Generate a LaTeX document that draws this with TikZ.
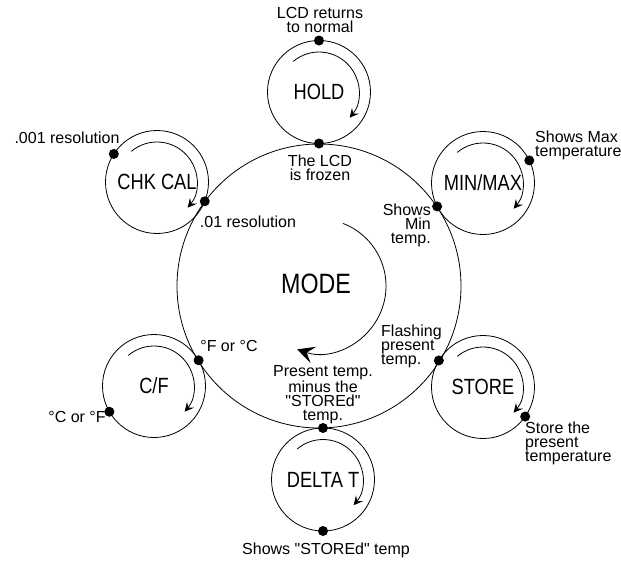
\documentclass[tikz,border=0pt]{standalone}
\usepackage{fontspec}
\setmainfont{Liberation Sans}
\newfontfamily\narrowfont[FakeStretch=0.83]{Liberation Sans}
\usepackage{tikz}
\usetikzlibrary{arrows.meta}

\tikzset{
  submode/.style={circle, draw, line width=0.8pt, minimum size=103pt, inner sep=0pt, outer sep=0pt,
    font=\narrowfont\fontsize{22}{22}\selectfont},
  contact/.style={circle, fill=black, minimum size=10pt, inner sep=0pt},
  remark/.style={inner sep=0pt, font=\fontsize{16}{14}\selectfont},
  turn/.style={line width=0.8pt, -{Stealth[length=9pt,width=9pt,inset=3.5pt]}},
}

\begin{document}
\begin{tikzpicture}[x=1pt,y=1pt]
    \useasboundingbox (0,0) rectangle (621,-560);

    % the big MODE ring
    \coordinate (hub) at (319,-286);
    \draw[line width=0.8pt] (hub) circle[radius=142];
    \node[font=\narrowfont\fontsize{28}{28}\selectfont] (mode) at (316,-284) {MODE};
    \draw[line width=0.8pt, -{Stealth[length=17pt,width=17pt,inset=7pt]}]
        ([shift={(69:67)}]hub) arc[start angle=69, end angle=-109, radius=67];

    % the six sub modes
    \node[submode] (hold) at (319,-92) {HOLD};
    \node[submode] (minmax) at (483,-183) {MIN/MAX};
    \node[submode] (chkcal) at (157,-182) {CHK CAL};
    \node[submode] (cf) at (154,-386) {C/F};
    \node[submode] (store) at (483,-387) {STORE};
    \node[submode] (deltat) at (323,-479.5) {DELTA T};

    \foreach \m in {hold,minmax,chkcal,cf,store,deltat}
        \draw[turn] ([shift={(130:40)}]\m.center) arc[start angle=130, end angle=-40, radius=40];

    % dots where the rings meet
    \node[contact] (holdin) at (hold.270) {};
    \node[contact] (holdout) at (hold.90) {};
    \node[contact] (minmaxin) at (minmax.207.5) {};
    \node[contact] (minmaxout) at (minmax.26) {};
    \node[contact] (chkcalin) at (chkcal.-22) {};
    \node[contact] (chkcalout) at (chkcal.147) {};
    \node[contact] (cfin) at (cf.30) {};
    \node[contact] (cfout) at (cf.210) {};
    \node[contact] (storein) at (store.149.5) {};
    \node[contact] (storeout) at (store.-35) {};
    \node[contact] (deltatin) at (deltat.90) {};
    \node[contact] (deltatout) at (deltat.270) {};

    % texts
    \node[remark, align=center] (holdnormal) at (320,-20) {LCD returns\\to normal};
    \node[remark, align=center] (holdfrozen) at (320,-168) {The LCD\\is frozen};
    \node[remark, align=left, anchor=west] (maxtext) at (535,-145) {Shows Max\\temperature};
    \node[remark, align=right, anchor=east] (mintext) at (431,-225) {Shows\\Min\\temp.};
    \node[remark] (finetext) at (67,-138) {.001 resolution};
    \node[remark] (coarsetext) at (248,-222) {.01 resolution};
    \node[remark] (fctext) at (229,-346) {°F or °C};
    \node[remark] (cftext) at (77,-417) {°C or °F};
    \node[remark, align=left, anchor=west] (flashtext) at (381,-346) {Flashing\\present\\temp.};
    \node[remark, align=left, anchor=west] (storetext) at (525,-443) {Store the\\present\\temperature};
    \node[remark, align=center] (minustext) at (323,-395)
        {Present temp.\\minus the\\\textquotedbl STOREd\textquotedbl\\temp.};
    \node[remark] (storedtext) at (326,-550) {Shows \textquotedbl STOREd\textquotedbl{} temp};
\end{tikzpicture}
\end{document}
